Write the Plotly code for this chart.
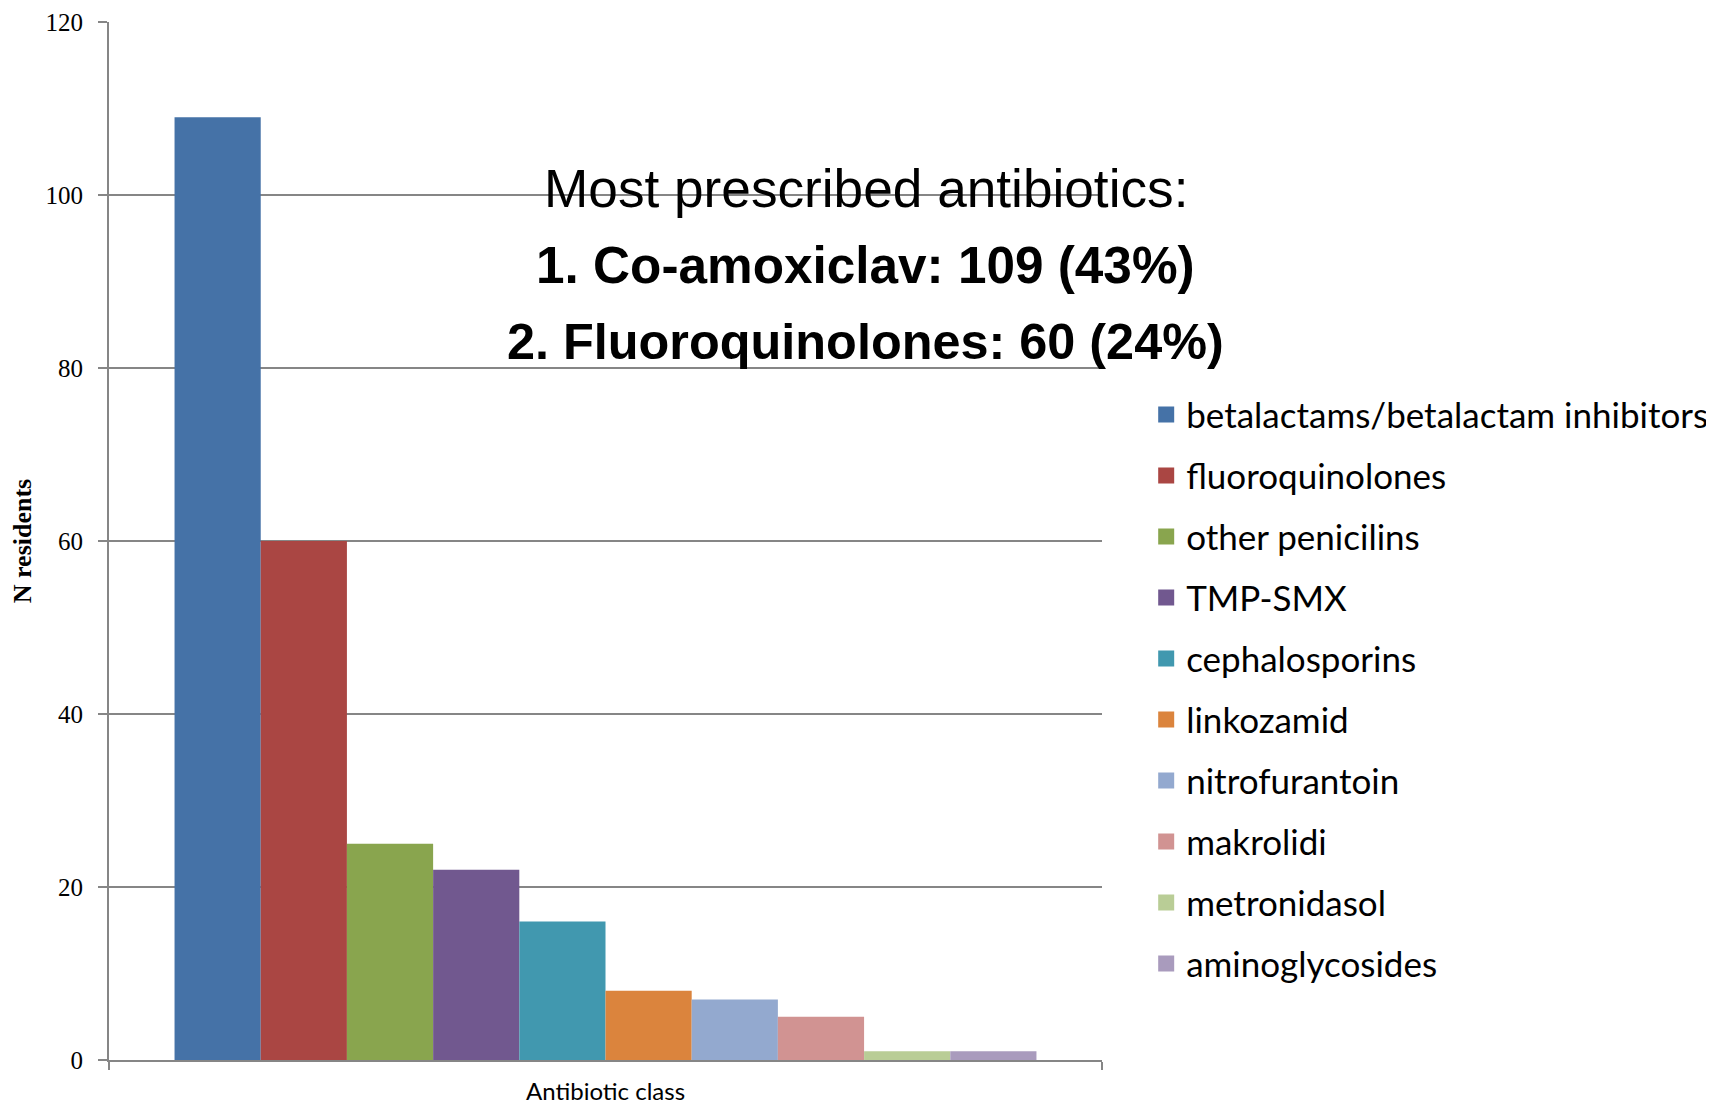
import plotly.graph_objects as go

categories = ["betalactams/betalactam inhibitors", "fluoroquinolones", "other penicilins",
              "TMP-SMX", "cephalosporins", "linkozamid", "nitrofurantoin", "makrolidi",
              "metronidasol", "aminoglycosides"]
values = [109, 60, 25, 22, 16, 8, 7, 5, 1, 1]
colors = ["#4572A7", "#AA4643", "#89A54E", "#71588F", "#4198AF", "#DB843D",
          "#93A9CF", "#D19392", "#B9CD96", "#A99BBD"]
x_label = "Antibiotic class"
y_ticks = [0, 20, 40, 60, 80, 100, 120]
note_lines = ["Most prescribed antibiotics:", "<b>1. Co-amoxiclav: 109 (43%)</b>",
              "<b>2. Fluoroquinolones: 60 (24%)</b>"]

fig = go.Figure()
for name, v, c in zip(categories, values, colors):
    fig.add_trace(go.Bar(x=[x_label], y=[v], name=name, marker=dict(color=c, line=dict(width=0)),
                         legendgroup=name, showlegend=False))
for name, c in zip(categories, colors):
    fig.add_trace(go.Scatter(x=[None], y=[None], mode="markers", name=name, legendgroup=name,
                             marker=dict(symbol="square", size=16, color=c), showlegend=True))

note_font = "Liberation Sans, Arial, sans-serif"
note_y = [0.840, 0.765, 0.692]
note_size = [53.2, 51.3, 50.4]
for t, yy, s in zip(note_lines, note_y, note_size):
    fig.add_annotation(text=t, x=0.762, y=yy, xref="paper", yref="paper", showarrow=False,
                       xanchor="center", yanchor="middle",
                       font=dict(family=note_font, size=s, color="#000000"))

# x-axis title as a text annotation below the plot
fig.add_annotation(text=x_label, x=0.5, y=0, xref="paper", yref="paper", showarrow=False,
                   xanchor="center", yanchor="middle", yshift=-30, borderpad=0,
                   font=dict(family="Lato, Open Sans, sans-serif", size=24, color="#000"))

fig.update_layout(
    width=1706, height=1098,
    margin=dict(l=101, r=612, t=14, b=46, autoexpand=False),
    paper_bgcolor="white", plot_bgcolor="white",
    barmode="group", bargap=0.132, bargroupgap=0,
    showlegend=True,
    legend=dict(x=1.0445, y=0.650, xanchor="left", yanchor="top",
                font=dict(family="Lato, Open Sans, sans-serif", size=35, color="#000000"),
                tracegroupgap=12.5, itemwidth=30, bgcolor="rgba(0,0,0,0)"),
    xaxis=dict(showline=True, linecolor="#868686", linewidth=2, ticks="outside",
               tickson="boundaries", ticklen=8, tickcolor="#868686", tickwidth=2,
               showticklabels=False, showgrid=False, automargin=False),
    yaxis=dict(range=[0, 120], tickvals=y_ticks, showline=True, linecolor="#868686", linewidth=2,
               ticks="outside", ticklen=9, tickcolor="#868686", tickwidth=2, automargin=False,
               showgrid=True, gridcolor="#868686", gridwidth=1.5, zeroline=False,
               ticklabelstandoff=10,
               tickfont=dict(family="Liberation Serif, Times New Roman, serif", size=25, color="#000"),
               title=dict(text="<b>N residents</b>",
                          font=dict(family="Liberation Serif, Times New Roman, serif", size=26, color="#000"),
                          standoff=30)),
)

fig.write_html("out.html")
